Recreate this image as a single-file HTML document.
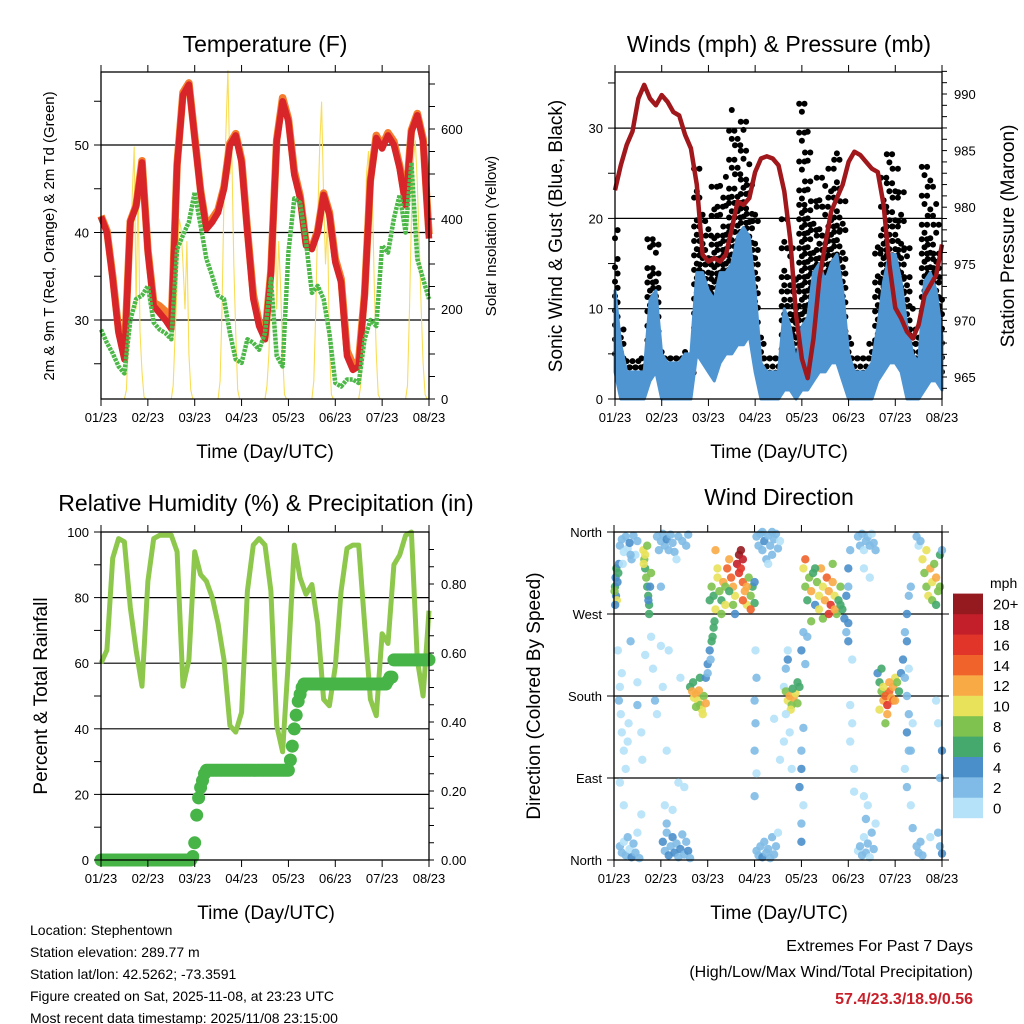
<!DOCTYPE html>
<html><head><meta charset="utf-8"><style>
body{margin:0;background:#fff}
svg{display:block;font-family:"Liberation Sans",Arial,sans-serif}
</style></head><body>
<svg id="s" width="1024" height="1024" viewBox="0 0 1024 1024" xmlns="http://www.w3.org/2000/svg">
<rect width="1024" height="1024" fill="#fff"/>
<text x="265" y="52" font-size="23" text-anchor="middle">Temperature (F)</text>
<text x="779" y="52" font-size="23" text-anchor="middle">Winds (mph) &amp; Pressure (mb)</text>
<text x="266" y="511" font-size="23" text-anchor="middle">Relative Humidity (%) &amp; Precipitation (in)</text>
<text x="779" y="505" font-size="23" text-anchor="middle">Wind Direction</text>
<text x="265" y="458" font-size="19" text-anchor="middle">Time (Day/UTC)</text>
<text x="779" y="458" font-size="19" text-anchor="middle">Time (Day/UTC)</text>
<text x="266" y="919" font-size="19" text-anchor="middle">Time (Day/UTC)</text>
<text x="779" y="919" font-size="19" text-anchor="middle">Time (Day/UTC)</text>
<text transform="translate(54,236) rotate(-90)" font-size="15" text-anchor="middle">2m &amp; 9m T (Red, Orange) &amp; 2m Td (Green)</text>
<text transform="translate(496,236) rotate(-90)" font-size="15" text-anchor="middle">Solar Insolation (Yellow)</text>
<text transform="translate(562,236) rotate(-90)" font-size="19" text-anchor="middle">Sonic Wind &amp; Gust (Blue, Black)</text>
<text transform="translate(1014,236) rotate(-90)" font-size="19" text-anchor="middle">Station Pressure (Maroon)</text>
<text transform="translate(47,696) rotate(-90)" font-size="19" text-anchor="middle">Percent &amp; Total Rainfall</text>
<text transform="translate(540,696) rotate(-90)" font-size="19" text-anchor="middle">Direction (Colored By Speed)</text>
<g font-size="14">
<text x="30" y="935">Location: Stephentown</text>
<text x="30" y="957">Station elevation: 289.77 m</text>
<text x="30" y="979">Station lat/lon: 42.5262; -73.3591</text>
<text x="30" y="1001">Figure created on Sat, 2025-11-08, at 23:23 UTC</text>
<text x="30" y="1023">Most recent data timestamp: 2025/11/08 23:15:00</text>
</g>
<text x="973" y="951" font-size="16" text-anchor="end">Extremes For Past 7 Days</text>
<text x="973" y="977" font-size="16" text-anchor="end">(High/Low/Max Wind/Total Precipitation)</text>
<text x="973" y="1004" font-size="16" font-weight="bold" fill="#c8202a" text-anchor="end">57.4/23.3/18.9/0.56</text>
<text x="990" y="588" font-size="14">mph</text>
</svg>
<script>
// ---- data (3-hour steps, t = 0..168 h) ----
const dateLabels = ["01/23","02/23","03/23","04/23","05/23","06/23","07/23","08/23"];
const temp2m = [41.8,40,34.7,28.5,25.5,41.2,43,48,37.7,31.6,30.8,30,29,47.7,55.7,56.9,50.8,44.6,40.4,41.2,42.3,45,50,51.1,48,40,32.4,29.3,27.8,35.4,50.4,55,52.7,46.6,43.9,38.5,38.1,40,44.3,42,36.6,34.3,25.9,24.3,24.7,32.8,45.8,50.8,49.6,51.1,50,47.3,43.1,51.5,53.4,50.4,39.3];
const temp9m = [41.9,40.2,35,28.8,25.9,41.3,43.1,48.2,38,32,31.6,31,29.5,47.8,56,57.1,51,44.8,40.6,41.6,42.6,45.2,50.2,51.3,48.3,40.3,32.9,29.7,28.1,35.6,50.6,55.4,53,47,44.2,38.8,38.3,40.2,44.5,42.3,37,34.7,26.5,24.9,25.3,33,46,51.1,49.9,51.4,50.4,47.6,43.4,51.7,53.6,50.7,39.8];
const dewpoint = [28.9,27.4,26.2,24.7,23.9,30,32.4,32.8,33.9,29.7,28.9,28.5,27.8,38.1,39.7,41.2,44.6,40.8,37,35,32.8,32.4,28.5,25.5,25.1,27.8,27.4,26.6,28.5,34.7,25.9,24.7,37.7,43.9,43.4,38.9,33.1,33.9,32.4,28.5,22.8,22.4,23.2,23.2,22.8,27.8,30,29.3,38.5,37.7,41.6,44.3,40,48,37,34.7,32.4];
// solar insolation, hourly (t = 0..168)
const solar = [0,0,0,0,0,0,0,0,0,0,0,0,
 0,20,120,300,450,560,200,480,150,60,5,0,0,0,0,0,0,0,0,0,0,0,0,0,
 0,30,150,250,400,380,300,200,350,100,20,0,0,0,0,0,0,0,0,0,0,0,0,0,
 0,40,200,450,600,730,500,550,300,150,20,0,0,0,0,0,0,0,0,0,0,0,0,0,
 0,30,100,250,300,480,200,350,250,100,10,0,0,0,0,0,0,0,0,0,0,0,0,0,
 0,40,200,400,560,660,450,300,400,120,10,0,0,0,0,0,0,0,0,0,0,0,0,0,
 0,30,180,350,500,550,400,450,250,100,10,0,0,0,0,0,0,0,0,0,0,0,0,0,
 0,30,200,400,530,574,480,350,200,80,10,0,0];
const pressure = [981.5,983.7,985.5,986.7,989.6,990.8,989.6,989,989.9,989.3,988.4,988.1,986.4,985.2,982,975.8,975.2,975.5,975.2,975.8,978.1,980.5,980.2,980.8,983.1,984.3,984.5,984.3,983.7,981.4,977.2,970.5,966.6,964.9,968.4,973.7,976.7,979.6,980.8,982,984,984.9,984.6,984,983.4,983.1,980.2,974.9,971.1,970.2,969,968.4,969.6,972.2,973.1,974,976.7];
const windLo = [3,0,0,0,0,0,2,3,0,0,0,0,0,0,5,4,3,2,4,5,5,6,6,7,3,0,0,0,0,1,1,0,1,1,2,3,3,4,4,2,0,0,0,0,0,2,3,4,4,3,0,0,0,1,2,2,1];
const windHi = [12,6,3,3,3,3,11,12,5,4,4,4,5,5,14,14,12,11,14,14,15,18,19,18,12,4,3,3,3,10,8,4,8,9,14,15,13,15,16,12,5,3,3,3,4,8,13,16,16,13,8,5,4,13,14,12,7];
const gustLo = [5,2,1,1,1,2,4,5,2,2,2,2,2,2,7,6,6,5,6,7,8,8,9,10,6,2,2,2,2,3,3,2,3,4,5,6,6,7,8,5,2,2,2,2,2,4,6,7,7,6,3,2,2,4,5,4,3];
const gustHi = [20,9,5,5,5,5,19,18,6,5,5,5,6,5,26,22,20,24,24,25,32,30,32,26,22,8,5,5,5,20,18,14,34,30,22,25,24,26,28,22,8,5,5,5,7,18,25,28,26,23,18,10,8,27,25,22,14];
const rh = [60,64,92,98,97,77,64,53,85,98,99,99,99,94,53,61,94,87,85,80,72,61,41,39,45,82,96,98,96,82,41,33,61,96,86,81,84,72,49,47,59,82,95,96,96,72,49,44,69,66,90,93,99,100,61,50,76];
// cumulative precipitation, hourly
const precip = [0,0,0,0,0,0,0,0,0,0,0,0,0,0,0,0,0,0,0,0,0,0,0,0,0,0,0,0,0,0,0,0,0,0,0,0,0,0,0,0,0,0,0,0,0,0,0,0.01,
 0.05,0.13,0.18,0.21,0.23,0.25,
 0.26,0.26,0.26,0.26,0.26,0.26,0.26,0.26,0.26,0.26,0.26,0.26,0.26,0.26,0.26,0.26,0.26,0.26,0.26,0.26,0.26,0.26,0.26,0.26,0.26,0.26,0.26,0.26,0.26,0.26,0.26,0.26,0.26,0.26,0.26,0.26,0.26,0.26,0.26,0.26,0.26,0.26,0.26,
 0.29,0.33,0.38,0.42,0.46,0.48,0.50,
 0.51,0.51,0.51,0.51,0.51,0.51,0.51,0.51,0.51,0.51,0.51,0.51,0.51,0.51,0.51,0.51,0.51,0.51,0.51,0.51,0.51,0.51,0.51,0.51,0.51,0.51,0.51,0.51,0.51,0.51,0.51,0.51,0.51,0.51,0.51,0.51,0.51,0.51,0.51,0.51,0.51,0.51,0.51,
 0.52,0.53,0.53,
 0.58,0.58,0.58,0.58,0.58,0.58,0.58,0.58,0.58,0.58,0.58,0.58,0.58,0.58,0.58,0.58,0.58,0.58,0.58];
// wind direction observations
const dirTime = [0.5,0.8,1,1.2,1.5,0.3,1.8,2.2,2.5,0.6, 3,4,5,6,7,8,9,10,11,12,4.5,8.5, 15,15.5,16,16.5,17,17.5,18,16,17,18.5,19,15.2,18,17.6,
22,24,25,26,27,28,29,30,31,33,35,37,38,23,32,
2,3,3.5,4,5,2.5,4,6,7,7.5,8.5,12,14,14.5,16,20,21,22,24,25,28,34,24,19,27,36,33,12,3,5,
3,4,5,6,7,8,9,10,11,12,13,14,25,26,27,28,29,30,31,32,33,34,35,36,37,38,39,27,30,26,
39,40,41,42,43,44,45,46,47,40.5,43.5,45.5,44,42, 47,48,49,50,51,49.5,50.5,48,51.5,
49,50,51,52,53,54,55,56,57,58,59,60,61,62,63,64,65,66,67,68,69,70,71,72,53,55,57,61,64,66,66,70,72,52,59,62,68,65,
73,74,75,76,77,78,79,80,81,82,83,84,85,76,81,79, 73,74,75,76,77,78,79,80,81,82,83,84,
72,72.5,72,73,72.5,72,73,85,82,87,89, 88,89,90,91,92,93,94,95,90.5,91.5,
88,89,94,96,97,97,96,96,97,96,96,95,91,90,88,87,99,98,
97,98,99,100,101,102,103,104,105,106,107,108,109,110,111,112,113,114,115,116,117,118,119,98,103,107,110,113,116,105,101,112,
120,120,120,120,121,119,122,121,122,121,123,123, 125,126,127,128,129,130,131,132,133,134,128,131,
125,126,127,128,129,130,131,132,133,134,130,129,128,
135,136,137,138,139,140,141,142,143,144,145,146,147,138,140,141,143,137,139,144,136,
148,149,150,151,152,149,150,151,150,151,149,150,152,153,150,152,153,151,
158,159,160,161,162,163,164,165,166,167,160,163,165,167,
155,156,157,155,156,157,158,162,166,167,168,168,165,166,168,167];
const dirDeg = [300,310,290,320,285,295,305,315,325,280, 345,352,338,355,342,348,330,356,335,350,325,335, 340,330,320,310,300,290,280,335,345,300,315,325,270,285,
355,350,358,345,352,340,357,348,338,355,350,345,357,340,330,
230,190,160,140,120,175,205,100,130,150,240,170,140,110,225,210,175,160,235,190,230,200,300,245,120,80,85,195,85,60,
15,8,20,5,25,12,3,18,8,30,2,50,20,10,30,5,15,25,8,18,3,12,28,6,20,10,2,40,55,60,
190,185,178,182,175,170,165,180,172,195,186,160,200,168, 200,215,230,240,255,220,245,205,262,
285,300,290,275,310,295,285,305,280,320,330,310,300,290,325,335,320,305,295,280,310,290,300,282,320,270,300,280,315,285,330,275,305,340,295,270,300,340,
355,345,358,340,350,330,356,345,335,352,358,342,350,360,360,325, 10,5,15,3,20,8,12,2,25,6,15,30,
120,150,175,200,230,70,95,110,155,190,230, 185,175,180,170,178,183,172,190,165,188,
210,220,195,230,250,145,120,100,60,40,20,80,100,140,160,130,245,215,
320,300,285,310,295,315,280,305,290,320,300,285,310,295,280,305,290,270,285,300,275,265,290,330,320,265,270,275,280,275,262,325,
240,260,300,320,340,250,220,170,150,130,75,100, 355,345,358,340,350,355,345,358,348,340,320,310,
10,15,5,25,8,18,3,30,12,40,60,45,70,
205,195,185,175,180,170,185,178,190,200,195,185,205,190,160,195,175,210,150,175,165,
220,250,270,290,300,200,180,160,140,120,100,80,60,35,240,120,150,210,
330,315,300,290,320,305,325,310,295,335,340,285,280,300,
355,345,350,15,8,20,5,25,30,15,7,340,175,150,120,90];
const dirSpeed = [6,5,4,6,10,8,4,6,4,5, 2,3,1,2,1,4,2,3,1,2,1,3, 10,8,7,8,6,7,6,10,9,5,8,11,6,4,
3,2,3,2,4,2,3,2,3,2,3,2,3,2,1,
1,0,1,1,0,2,1,1,1,0,3,2,1,0,1,1,2,1,1,0,1,1,2,1,1,1,1,1,1,1,
3,2,1,3,2,1,4,2,3,1,2,1,4,3,2,4,3,4,5,3,2,4,3,2,3,4,3,3,1,1,
6,12,10,13,11,9,10,8,12,6,12,10,6,8, 4,4,4,6,7,3,7,3,6,
7,8,6,10,11,9,7,12,10,14,13,15,12,11,18,20,17,15,12,10,9,8,6,6,10,8,9,8,16,14,18,14,5,12,7,5,13,20,
3,2,3,2,4,2,3,2,3,2,3,2,1,3,2,1, 2,3,2,4,2,3,2,3,2,3,2,1,
3,2,3,2,1,3,1,1,1,1,1, 8,10,12,9,13,11,8,6,10,7,
3,4,6,4,3,3,2,4,1,3,4,4,1,1,1,1,2,2,
10,8,7,9,12,6,5,9,11,13,10,12,14,13,16,12,10,9,7,8,6,5,4,14,7,8,16,12,7,10,8,9,
4,5,3,4,3,3,1,1,1,1,1,1, 2,3,2,1,2,3,2,1,2,2,1,1,
1,3,2,1,3,2,1,2,3,1,1,2,1,
4,6,8,12,14,16,15,13,12,11,8,6,4,10,12,13,14,6,8,12,10,
4,3,4,3,2,2,3,2,4,3,1,2,1,3,5,2,1,1,
10,8,9,11,12,10,8,13,9,6,10,9,6,8,
2,1,3,2,3,2,2,1,2,3,4,3,1,1,4,2];
const speedColors = ["#b5e2f8","#7fbbe6","#4a8fca","#45a86c","#80c24f","#e8e25a","#f8aa45","#f0632b","#e1352a","#c21f2a","#951a1f"];
const speedLabels = ["0","2","4","6","8","10","12","14","16","18","20+"];

const NS="http://www.w3.org/2000/svg";
const svg=document.getElementById('s');
function mk(tag,attrs,parent){const e=document.createElementNS(NS,tag);for(const k in attrs)e.setAttribute(k,attrs[k]);(parent||svg).appendChild(e);return e;}
function grp(name){const g=mk('g',{});return g;}

const P={
 temp:{x0:101,x1:429,y0:72,y1:399},
 wind:{x0:615,x1:942,y0:72,y1:399},
 rh:{x0:101,x1:429,y0:532,y1:860},
 dir:{x0:614,x1:942,y0:532,y1:860}
};
function X(p,t){return p.x0+t/168*(p.x1-p.x0);}
const tempY=v=>320-(v-30)*8.75;
const solarY=v=>399-v*0.45;
const windY=v=>399-v*9.03;
const presY=v=>377-(v-965)*11.32;
const rhY=v=>860-v*3.28;
const prY=v=>860-v*345;
const dirY=d=>860-d/360*328;

function gridLine(g,p,y){const l=mk('line',{x1:p.x0,x2:p.x1,y1:y,y2:y,stroke:'#000','stroke-width':1.2},g);

}

function frame(p,name){
 const g=grp(name+'-axes');
 const r=mk('rect',{x:p.x0,y:p.y0,width:p.x1-p.x0,height:p.y1-p.y0,fill:'none',stroke:'#000','stroke-width':1.3},g);
 
 
 for(let i=0;i<dateLabels.length;i++){
  const x=X(p,i*24);
  const tb=mk('line',{x1:x,x2:x,y1:p.y1,y2:p.y1+7,stroke:'#000','stroke-width':1},g);
  
  
  const tt=mk('line',{x1:x,x2:x,y1:p.y0,y2:p.y0-7,stroke:'#000','stroke-width':1},g);
  
  
  const lb=mk('text',{x:x,y:p.y1+23,'font-size':13,'text-anchor':'middle'},g);
  lb.textContent=dateLabels[i];
  
  
 }
 return g;
}
function yTicks(g,p,vals,fy,side,labels,len){
 for(let i=0;i<vals.length;i++){
  const y=fy(vals[i]);
  const x=side==='l'?p.x0:p.x1;
  const t=mk('line',{x1:x,x2:side==='l'?x-len:x+len,y1:y,y2:y,stroke:'#000','stroke-width':1},g);
  
  
  if(labels&&labels[i]!==''){
   const lb=mk('text',{x:side==='l'?x-12:x+12,y:y+5,'font-size':13,'text-anchor':side==='l'?'end':'start'},g);
   lb.textContent=labels[i];
   
   
  }
 }
}
function pts(arr,step,p,fy){return arr.map((v,i)=>X(p,i*step).toFixed(1)+','+fy(v).toFixed(1)).join(' ');}

// ===== Temperature panel =====
(function(){
 const p=P.temp;const g=grp('temperature-chart');
 [30,40,50].forEach(v=>gridLine(g,p,tempY(v)));
 const sl=mk('polyline',{points:pts(solar,1,p,solarY),fill:'none',stroke:'#f9dd55','stroke-width':1.1,'stroke-linejoin':'round'},g);
 
 
 const o=mk('polyline',{points:pts(temp9m,3,p,tempY),fill:'none',stroke:'#f47c2c','stroke-width':7.5,'stroke-linejoin':'round'},g);
 
 
 const r=mk('polyline',{points:pts(temp2m,3,p,tempY),fill:'none',stroke:'#d7252a','stroke-width':6.5,'stroke-linejoin':'round'},g);
 
 
 const d=mk('polyline',{points:pts(dewpoint,3,p,tempY),fill:'none',stroke:'#4cb848','stroke-width':4.5,'stroke-dasharray':'3 1','stroke-linejoin':'round'},g);
 
 
 const a=frame(p,'temperature');
 yTicks(a,p,[25,30,35,40,45,50,55],tempY,'l',['','30','','40','','50',''],7);
 const sv=[],sl2=[];for(let v=0;v<=700;v+=50){sv.push(v);sl2.push(v%200===0?String(v):'');}
 yTicks(a,p,sv,solarY,'r',sl2,6);
})();

// ===== Winds panel =====
(function(){
 const p=P.wind;const g=grp('winds-chart');
 [10,20,30].forEach(v=>gridLine(g,p,windY(v)));
 const gd=grp('gust-dots');g.appendChild(gd);
 for(let i=0;i<gustLo.length;i++){
  for(let h=-1;h<=1;h++){
   const t=i*3+h;if(t<0||t>168)continue;
   const x=X(p,t);
   for(let v=gustLo[i]+(h===0?0:0.9);v<=gustHi[i];v+=(v<gustLo[i]+(gustHi[i]-gustLo[i])*0.6?1.6:3.2)){
    const c=mk('circle',{cx:(x+(h*0.7)).toFixed(1),cy:windY(v).toFixed(1),r:3,fill:'#000'},gd);
    
    
   }
  }
 }
 const band=windHi.map((v,i)=>X(p,i*3).toFixed(1)+','+windY(v).toFixed(1)).concat(windLo.map((v,i)=>[i,v]).reverse().map(([i,v])=>X(p,i*3).toFixed(1)+','+windY(v).toFixed(1))).join(' ');
 const b=mk('polygon',{points:band,fill:'#4f95d2',stroke:'#4f95d2','stroke-width':3,'stroke-linejoin':'round'},g);
 
 
 const pl=mk('polyline',{points:pts(pressure,3,p,presY),fill:'none',stroke:'#a0171c','stroke-width':4.5,'stroke-linejoin':'round'},g);
 
 
 const a=frame(p,'winds');
 yTicks(a,p,[0,5,10,15,20,25,30,35],windY,'l',['0','','10','','20','','30',''],7);
 const pv=[],plb=[];for(let v=964;v<=992;v++){pv.push(v);plb.push(v%5===0?String(v):'');}
 yTicks(a,p,pv,presY,'r',plb,5);
})();

// ===== RH panel =====
(function(){
 const p=P.rh;const g=grp('humidity-chart');
 [20,40,60,80].forEach(v=>gridLine(g,p,rhY(v)));
 const l=mk('polyline',{points:pts(rh,3,p,rhY),fill:'none',stroke:'#8dc84d','stroke-width':5,'stroke-linejoin':'round'},g);
 
 
 const pg=grp('precip-dots');g.appendChild(pg);
 for(let i=0;i<precip.length;i++){
  const c=mk('circle',{cx:X(p,i).toFixed(1),cy:prY(precip[i]).toFixed(1),r:6.5,fill:'#47b447'},pg);
  
  
 }
 const a=frame(p,'humidity');
 yTicks(a,p,[0,10,20,30,40,50,60,70,80,90,100],rhY,'l',['0','','20','','40','','60','','80','','100'],7);
 const qv=[],ql=[];for(let k=0;k<=18;k++){const v=k*0.05;qv.push(v);ql.push(k%4===0?v.toFixed(2):'');}
 yTicks(a,p,qv,prY,'r',ql,5);
})();

// ===== Wind direction panel =====
(function(){
 const p=P.dir;const g=grp('wind-direction-chart');
 [270,180,90].forEach(v=>gridLine(g,p,dirY(v)));
 for(let i=0;i<dirTime.length;i++){
  const ci=Math.min(10,Math.floor(dirSpeed[i]/2));
  const c=mk('circle',{cx:X(p,dirTime[i]).toFixed(1),cy:dirY(dirDeg[i]).toFixed(1),r:4.2,fill:speedColors[ci],'fill-opacity':0.9},g);
  
  
 }
 const a=frame(p,'wind-direction');
 yTicks(a,p,[360,270,180,90,0],dirY,'l',['North','West','South','East','North'],7);
 yTicks(a,p,[360,270,180,90,0],dirY,'r',null,7);
 const cb=grp('speed-colorbar');
 for(let i=0;i<speedColors.length;i++){
  const y=818-(i+1)*20.4;
  const r=mk('rect',{x:953,y:y.toFixed(1),width:30,height:20.6,fill:speedColors[i]},cb);
  
  
  const t=mk('text',{x:993,y:(y+16).toFixed(1),'font-size':15},cb);
  t.textContent=speedLabels[i];
  
  
 }
})();
</script>
</body></html>
